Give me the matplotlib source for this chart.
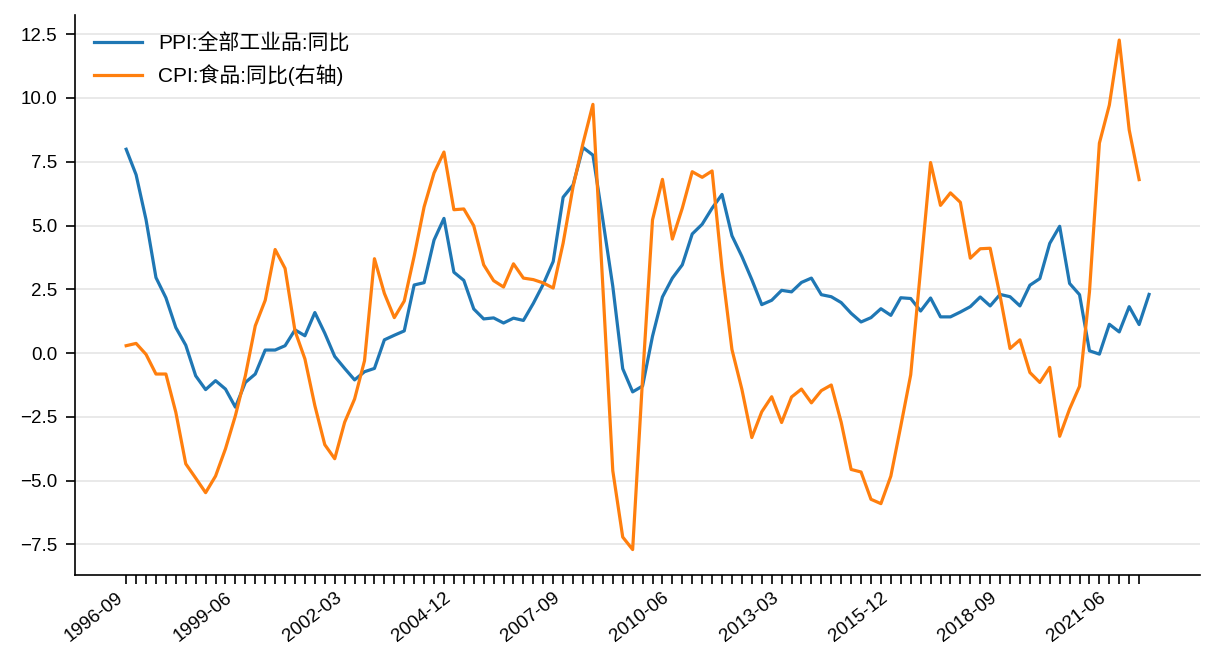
import matplotlib
matplotlib.use('Agg')
import matplotlib.pyplot as plt

# quarterly, from 1996-09
ppi = [7.99, 6.99, 5.23, 2.96, 2.17, 1.00, 0.31, -0.89, -1.43, -1.08,
       -1.41, -2.12, -1.15, -0.82, 0.12, 0.12, 0.29, 0.91, 0.68, 1.59,
       0.78, -0.13, -0.60, -1.05, -0.73, -0.60, 0.52, 0.70, 0.87, 2.67,
       2.76, 4.43, 5.28, 3.17, 2.85, 1.73, 1.34, 1.38, 1.18, 1.37,
       1.28, 1.95, 2.70, 3.59, 6.11, 6.59, 8.06, 7.76, 5.22, 2.62,
       -0.61, -1.52, -1.29, 0.66, 2.20, 2.94, 3.46, 4.67, 5.05, 5.68,
       6.22, 4.60, 3.79, 2.88, 1.90, 2.07, 2.46, 2.40, 2.77, 2.94,
       2.29, 2.21, 1.98, 1.56, 1.22, 1.39, 1.74, 1.48, 2.17, 2.14,
       1.65, 2.16, 1.42, 1.42, 1.61, 1.82, 2.20, 1.85, 2.30, 2.21,
       1.85, 2.66, 2.92, 4.30, 4.97, 2.73, 2.29, 0.09, -0.04, 1.13,
       0.83, 1.82, 1.12, 2.30]

cpi_food = [0.29, 0.38, -0.05, -0.82, -0.82, -2.32, -4.34, -4.90, -5.47, -4.82,
            -3.75, -2.45, -0.89, 1.07, 2.07, 4.06, 3.32, 0.87, -0.23, -2.06,
            -3.59, -4.14, -2.71, -1.80, -0.30, 3.70, 2.34, 1.39, 2.04, 3.80,
            5.73, 7.06, 7.88, 5.62, 5.65, 4.99, 3.46, 2.84, 2.59, 3.50,
            2.94, 2.88, 2.75, 2.55, 4.31, 6.52, 8.22, 9.75, 2.60, -4.61,
            -7.21, -7.70, -1.00, 5.22, 6.81, 4.47, 5.68, 7.11, 6.89, 7.14,
            3.30, 0.14, -1.42, -3.31, -2.30, -1.71, -2.72, -1.72, -1.41, -1.95,
            -1.47, -1.25, -2.71, -4.56, -4.66, -5.73, -5.90, -4.82, -2.86, -0.85,
            3.30, 7.47, 5.79, 6.28, 5.91, 3.72, 4.09, 4.11, 2.24, 0.18,
            0.52, -0.76, -1.15, -0.56, -3.26, -2.19, -1.30, 2.40, 8.23, 9.72,
            12.27, 8.75, 6.80]

months = ['03', '06', '09', '12']
dates = [f"{1996 + (2 + i) // 4}-{months[(2 + i) % 4]}" for i in range(len(ppi))]

plt.rcParams['font.family'] = ['Liberation Sans', 'Noto Sans CJK SC', 'DejaVu Sans']

fig = plt.figure(figsize=(12.16, 6.72), dpi=100)
ax = fig.add_axes([0.0617, 0.1443, 0.9253, 0.834])

ax.plot(range(len(ppi)), ppi, color='#1f77b4', lw=2.3, label='PPI:全部工业品:同比')
ax.plot(range(len(cpi_food)), cpi_food, color='#ff7f0e', lw=2.3, label='CPI:食品:同比(右轴)')

ax.set_xticks(range(len(cpi_food)))
ax.set_xticklabels([d if i % 11 == 0 else '' for i, d in enumerate(dates[:len(cpi_food)])],
                   rotation=38, ha='right')
ax.tick_params(axis='both', labelsize=13.5, length=6.5, width=1.2)
ax.tick_params(axis='y', pad=6)
ax.grid(axis='y', color='#e5e5e5', lw=1.2)
ax.set_axisbelow(True)
for s in ['top', 'right']:
    ax.spines[s].set_visible(False)
for s in ['left', 'bottom']:
    ax.spines[s].set_linewidth(1.2)

ax.legend(loc='upper left', frameon=False, fontsize=15, handlelength=2.3)

fig.savefig('out.png', dpi=100)
